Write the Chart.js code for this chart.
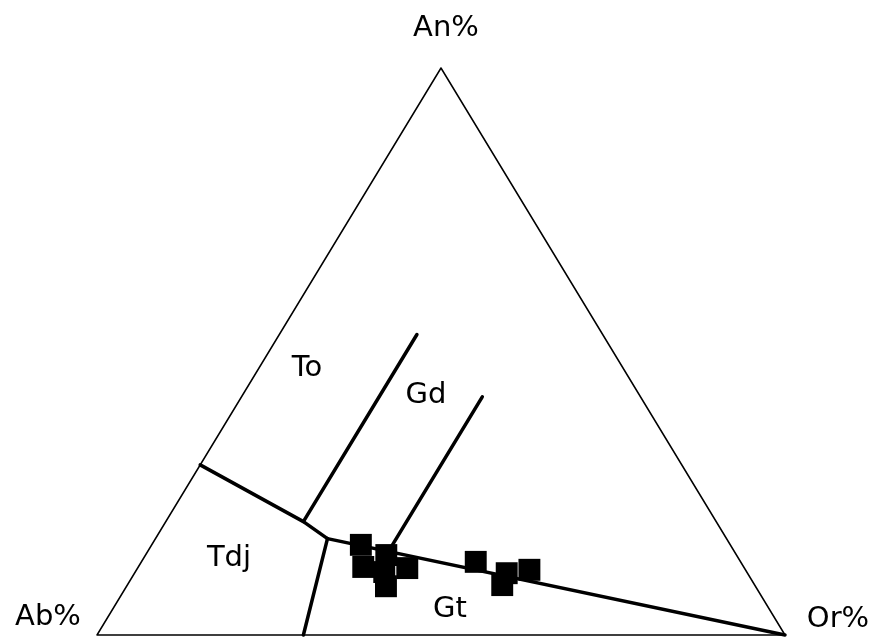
<!DOCTYPE html>
<html>
<head>
<meta charset="utf-8">
<title>An-Ab-Or</title>
<script src="https://cdn.jsdelivr.net/npm/chart.js@4.4.0/dist/chart.umd.min.js"></script>
<style>
    html, body { margin: 0; padding: 0; background: #fff; overflow: hidden; }
    #canvas { display: block; }
</style>
</head>
<body>
<canvas id="canvas" width="877" height="639"></canvas>
<script>
// sample values, percent
var sampleAn = [15.9, 12.0, 14.1, 11.8, 8.6, 11.1, 12.9, 8.8, 10.9, 11.5];
var sampleOr = [30.4, 32.7, 35.0, 39.2, 37.7, 36.2, 48.6, 54.5, 54.1, 57.1];
var sampleAb = sampleAn.map(function (an, i) { return 100 - an - sampleOr[i]; });

// field boundaries, [An, Or] pairs
var outline = [[0, 0], [0, 100], [100, 0], [0, 0]];
var lineTdjTo = [[30, 0], [20, 20], [17, 25]];
var lineTdjGt = [[17, 25], [0, 30]];
var lineGt = [[17, 25], [0, 100]];
var lineToGd = [[20, 20], [53, 20]];
var lineGdGt = [[14.7, 35], [42, 35]];

var cornerLabels = ['An%', 'Ab%', 'Or%'];
var fieldLabels = ['To', 'Gd', 'Tdj', 'Gt'];

function toXY(an, or) {
    return {x: or + an / 2, y: an};
}

function pairsToXY(pairs) {
    return pairs.map(function (p) { return toXY(p[0], p[1]); });
}

function lineSet(pairs, width) {
    return {
        data: pairsToXY(pairs),
        showLine: true,
        borderColor: '#000',
        borderWidth: width,
        pointRadius: 0,
        borderCapStyle: 'round',
        borderJoinStyle: 'round',
        clip: false
    };
}

var samplePoints = [];
for (var i = 0; i < sampleAn.length; i++) {
    samplePoints.push(toXY(sampleAn[i], sampleOr[i]));
}

var labelPlugin = {
    id: 'ternaryLabels',
    afterDraw: function (chart) {
        var ctx = chart.ctx;
        ctx.save();
        ctx.fillStyle = '#000';
        ctx.textAlign = 'center';
        ctx.textBaseline = 'alphabetic';
        ctx.font = '29px "DejaVu Sans"';
        ctx.fillText(cornerLabels[0], 446, 36);
        ctx.fillText(cornerLabels[1], 48, 625);
        ctx.fillText(cornerLabels[2], 838, 627);
        ctx.fillText(fieldLabels[0], 307, 376);
        ctx.fillText(fieldLabels[1], 426, 403);
        ctx.fillText(fieldLabels[2], 229, 566);
        ctx.fillText(fieldLabels[3], 450, 617);
        ctx.restore();
    }
};

var datasets = [
    lineSet(outline, 1.5),
    lineSet(lineTdjTo, 3.5),
    lineSet(lineTdjGt, 3.5),
    lineSet(lineGt, 3.5),
    lineSet(lineToGd, 3.5),
    lineSet(lineGdGt, 3.5),
    {
        data: samplePoints,
        pointStyle: 'rect',
        pointRadius: 15.5,
        pointBackgroundColor: '#000',
        pointBorderColor: '#000',
        pointBorderWidth: 0,
        showLine: false,
        clip: false
    }
];

const CHART = document.getElementById('canvas');
var ternary = new Chart(CHART, {
    type: 'scatter',
    data: {datasets: datasets},
    options: {
        responsive: false,
        animation: false,
        layout: {autoPadding: false, padding: {left: 97, right: 92, top: 68, bottom: 4}},
        plugins: {legend: {display: false}, tooltip: {enabled: false}},
        scales: {
            x: {type: 'linear', min: 0, max: 100, display: false},
            y: {type: 'linear', min: 0, max: 100, display: false}
        }
    },
    plugins: [labelPlugin]
});
</script>
</body>
</html>
